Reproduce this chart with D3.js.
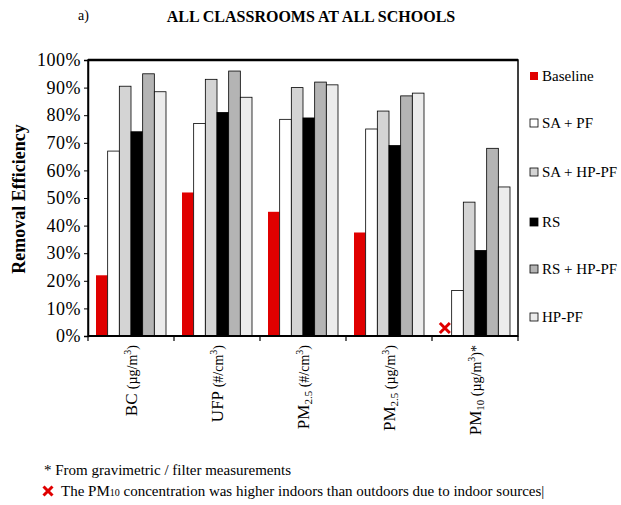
<!DOCTYPE html>
<html>
<head>
<meta charset="utf-8">
<script src="https://cdn.jsdelivr.net/npm/d3@7"></script>
<style>
  body { margin: 0; background: #fff; }
  svg, svg text { font-family: "Liberation Serif", "Times New Roman", Times, "DejaVu Serif", serif !important; }
</style>
</head>
<body>
<div id="chart"></div>
<script>
// data (removal efficiency, %)
var categories = ["BC", "UFP", "PM2.5n", "PM2.5m", "PM10"]
var seriesNames = ["Baseline", "SA + PF", "SA + HP-PF", "RS", "RS + HP-PF", "HP-PF"]
var baseline = [22, 52, 45, 37.5, 0]
var saPf     = [67, 77, 78.5, 75, 16.5]
var saHpPf   = [90.5, 93, 90, 81.5, 48.5]
var rs       = [74, 81, 79, 69, 31]
var rsHpPf   = [95, 96, 92, 87, 68]
var hpPf     = [88.5, 86.5, 91, 88, 54]
var yTicks   = [0, 10, 20, 30, 40, 50, 60, 70, 80, 90, 100]
// tick label pieces: [text, kind]  kind: n = normal, u = unit (smaller), sub, sup
var catLabels = [
  [["BC ", "n"], ["(µg/m", "u"], ["3", "sup"], [")", "u"]],
  [["UFP ", "n"], ["(#/cm", "u"], ["3", "sup"], [")", "u"]],
  [["PM", "n"], ["2.5", "sub"], [" (#/cm", "u"], ["3", "sup"], [")", "u"]],
  [["PM", "n"], ["2.5", "sub"], [" (µg/m", "u"], ["3", "sup"], [")", "u"]],
  [["PM", "n"], ["10", "sub"], [" (µg/m", "u"], ["3", "sup"], [")*", "u"]]
]
var markedCategory = "PM10"   // baseline not applicable (red cross)

var fills   = ["#e00000", "#ffffff", "#d4d4d4", "#000000", "#b4b4b4", "#ececec"]
var strokes = ["none", "#000", "#000", "#000", "#000", "#000"]

var allSeries = [baseline, saPf, saHpPf, rs, rsHpPf, hpPf]

var width = 621, height = 505
var pLeft = 88, pRight = 518, pTop = 60, pBottom = 336
var serif = "'Liberation Serif', 'Times New Roman', Times, serif"

var svg = d3.select("#chart").append("svg")
  .attr("width", width)
  .attr("height", height)
  .attr("font-family", serif)

var x0 = d3.scaleBand().domain(categories).range([pLeft, pRight]).padding(0)
var x1 = d3.scaleBand().domain(seriesNames).range([8, x0.bandwidth() - 8]).padding(0)
var y = d3.scaleLinear().domain([0, 100]).range([pBottom, pTop])

// title
svg.append("text").attr("x", 78).attr("y", 20)
  .style("font-size", "14px").text("a)")
svg.append("text").attr("x", 311).attr("y", 22)
  .attr("text-anchor", "middle")
  .style("font-size", "16px").style("font-weight", "bold")
  .text("ALL CLASSROOMS AT ALL SCHOOLS")

// plot frame
svg.append("rect")
  .attr("x", pLeft).attr("y", pTop)
  .attr("width", pRight - pLeft).attr("height", pBottom - pTop)
  .attr("fill", "none").attr("stroke", "#000").attr("stroke-width", 1.5)
svg.append("line")
  .attr("x1", pLeft).attr("x2", pRight).attr("y1", pTop).attr("y2", pTop)
  .attr("stroke", "#000").attr("stroke-width", 2.5)

// y axis
var yAxis = svg.append("g")
  .attr("transform", "translate(" + pLeft + ",0)")
  .call(d3.axisLeft(y).tickValues(yTicks).tickSize(4).tickPadding(3)
    .tickFormat(function(d) { return d + "%" }))
yAxis.attr("font-family", serif)
yAxis.select(".domain").attr("stroke-width", 1.5)
yAxis.selectAll("text").style("font-size", "18px").attr("fill", "#000")
  .style("letter-spacing", "0.5px")

svg.append("text")
  .attr("transform", "translate(25," + ((pTop + pBottom) / 2 + 1) + ") rotate(-90)")
  .attr("text-anchor", "middle")
  .style("font-size", "18px").style("font-weight", "bold")
  .text("Removal Efficiency")

// bars
var groups = svg.selectAll("g.grp")
  .data(categories)
  .enter().append("g")
  .attr("class", "grp")
  .attr("transform", function(d) { return "translate(" + x0(d) + ",0)" })

groups.selectAll("rect")
  .data(function(c, ci) {
    return seriesNames.map(function(s, si) { return { s: s, si: si, v: allSeries[si][ci] } })
      .filter(function(d) { return d.v > 0 })
  })
  .enter().append("rect")
  .attr("x", function(d) { return x1(d.s) })
  .attr("y", function(d) { return y(d.v) })
  .attr("width", x1.bandwidth())
  .attr("height", function(d) { return y(0) - y(d.v) })
  .attr("fill", function(d) { return fills[d.si] })
  .attr("stroke", function(d) { return strokes[d.si] })
  .attr("stroke-width", 0.8)

// x axis (ticks at band edges)
svg.append("line")
  .attr("x1", pLeft).attr("x2", pRight).attr("y1", pBottom).attr("y2", pBottom)
  .attr("stroke", "#000").attr("stroke-width", 2)
var edges = categories.map(function(c) { return x0(c) }).concat([pRight])
svg.selectAll("line.xt").data(edges).enter().append("line")
  .attr("class", "xt")
  .attr("x1", function(d) { return d }).attr("x2", function(d) { return d })
  .attr("y1", pBottom).attr("y2", pBottom + 5)
  .attr("stroke", "#000").attr("stroke-width", 1.2)

// rotated category labels
categories.forEach(function(c, i) {
  var cx = x0(c) + x0.bandwidth() / 2 + 6
  var t = svg.append("text")
    .attr("transform", "translate(" + cx + ",345) rotate(-90)")
    .attr("text-anchor", "end")
    .style("font-size", "17px")
  catLabels[i].forEach(function(p) {
    var ts = t.append("tspan").text(p[0])
    if (p[1] === "u") ts.style("font-size", "14px")
    if (p[1] === "sub") ts.style("font-size", "11px").attr("baseline-shift", "-25%")
    if (p[1] === "sup") ts.style("font-size", "10px").attr("baseline-shift", "60%")
  })
})

// red cross on PM10 baseline
function cross(g, cx, cy, r) {
  g.append("path")
    .attr("d", "M" + (cx - r) + "," + (cy - r) + "L" + (cx + r) + "," + (cy + r) +
               "M" + (cx + r) + "," + (cy - r) + "L" + (cx - r) + "," + (cy + r))
    .attr("stroke", "#e00000").attr("stroke-width", 3).attr("fill", "none")
}
cross(svg, x0(markedCategory) + x1("Baseline") + x1.bandwidth() / 2 - 1, y(0) - 8, 5)

// legend
var ly = [76, 123, 172, 222, 269, 317]
var leg = svg.selectAll("g.leg").data(seriesNames).enter().append("g")
  .attr("class", "leg")
  .attr("transform", function(d, i) { return "translate(530," + ly[i] + ")" })
leg.append("rect")
  .attr("x", 0).attr("y", -4).attr("width", 8).attr("height", 8)
  .attr("fill", function(d, i) { return fills[i] })
  .attr("stroke", function(d, i) { return strokes[i] })
  .attr("stroke-width", 0.8)
leg.append("text")
  .attr("x", 12).attr("y", 5)
  .style("font-size", "15px")
  .text(function(d) { return d })

// footnotes
svg.append("text").attr("x", 44).attr("y", 475)
  .style("font-size", "15px")
  .text("* From gravimetric / filter measurements")
cross(svg, 48, 491, 4.5)
var fn = svg.append("text").attr("x", 61).attr("y", 496).style("font-size", "15px")
fn.append("tspan").text("The PM")
fn.append("tspan").text("10").style("font-size", "10px")
fn.append("tspan").text(" concentration was higher indoors than outdoors due to indoor sources|")
</script>
</body>
</html>
